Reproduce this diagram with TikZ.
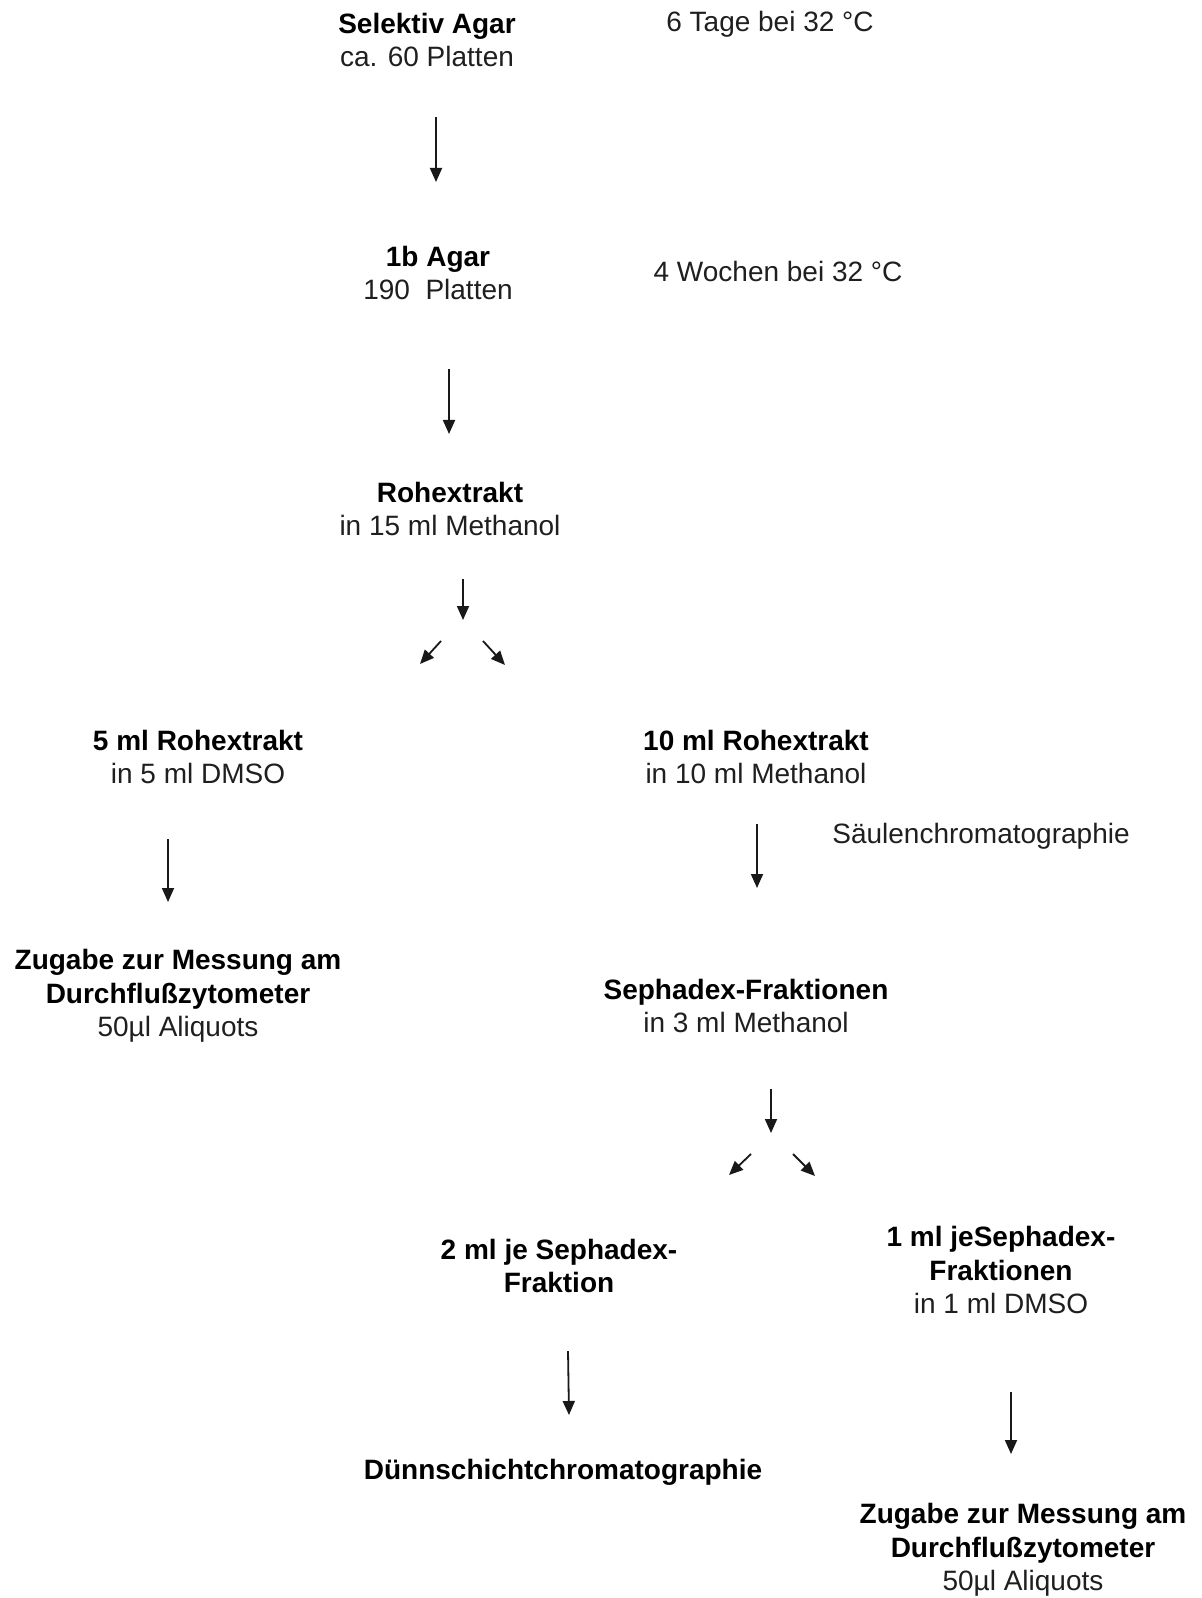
\documentclass[tikz,border=0pt]{standalone}
\usepackage{fontspec}
\setmainfont{Liberation Sans}
\usetikzlibrary{arrows.meta}
\begin{document}
\begin{tikzpicture}[x=0.5pt,y=-0.5pt,
  txt/.style={align=center,inner sep=0pt,text=black!88,font=\fontsize{14}{16.75}\selectfont},
  flow/.style={line width=0.9pt,draw=black!90,-{Triangle[length=7pt,width=6pt]}}]
\useasboundingbox[fill=white] (0,0) rectangle (1202,1598);
% nodes
\node[txt] (sel) at (427,40) {\textbf{\color{black}Selektiv Agar}\\ca. 60 Platten};
\node[txt] (t6) at (770,24) {6 Tage bei 32 °C};
\node[txt] (agar) at (438,273) {\textbf{\color{black}1b Agar}\\190\ \ Platten};
\node[txt] (w4) at (778,271) {4 Wochen bei 32 °C};
\node[txt] (roh) at (450,509) {\textbf{\color{black}Rohextrakt}\\in 15 ml Methanol};
\node[txt] (r5) at (198,757) {\textbf{\color{black}5 ml Rohextrakt}\\in 5 ml DMSO};
\node[txt] (r10) at (756,757) {\textbf{\color{black}10 ml Rohextrakt}\\in 10 ml Methanol};
\node[txt] (saeul) at (981,836) {Säulenchromatographie};
\node[txt] (zug1) at (178,996) {\textbf{\color{black}Zugabe zur Messung am}\\\textbf{\color{black}Durchflußzytometer}\\50µl Aliquots};
\node[txt] (seph) at (746,1006) {\textbf{\color{black}Sephadex-Fraktionen}\\in 3 ml Methanol};
\node[txt] (s2) at (559,1266) {\textbf{\color{black}2 ml je Sephadex-}\\\textbf{\color{black}Fraktion}};
\node[txt] (s1) at (1001,1270) {\textbf{\color{black}1 ml jeSephadex-}\\\textbf{\color{black}Fraktionen}\\in 1 ml DMSO};
\node[txt] (dc) at (563,1472) {\textbf{\color{black}Dünnschichtchromatographie}};
\node[txt] (zug2) at (1023,1550) {\textbf{\color{black}Zugabe zur Messung am}\\\textbf{\color{black}Durchflußzytometer}\\50µl Aliquots};
% arrow end points
\coordinate (a1s) at (436,117); \coordinate (a1e) at (436,182);
\coordinate (a2s) at (449,369); \coordinate (a2e) at (449,434);
\coordinate (a3s) at (463,579); \coordinate (a3e) at (463,620);
\coordinate (d1s) at (441,641); \coordinate (d1e) at (420,664);
\coordinate (d2s) at (483,641); \coordinate (d2e) at (505,665);
\coordinate (a4s) at (168,839); \coordinate (a4e) at (168,902);
\coordinate (a5s) at (757,824); \coordinate (a5e) at (757,888);
\coordinate (a6s) at (771,1089); \coordinate (a6e) at (771,1133);
\coordinate (d3s) at (751,1154); \coordinate (d3e) at (729,1175);
\coordinate (d4s) at (793,1154); \coordinate (d4e) at (815,1176);
\coordinate (a7s) at (568,1351); \coordinate (a7e) at (569,1415);
\coordinate (a8s) at (1011,1392); \coordinate (a8e) at (1011,1454);
% connectors
\draw[flow] (a1s) -- (a1e);
\draw[flow] (a2s) -- (a2e);
\draw[flow] (a3s) -- (a3e);
\draw[flow] (d1s) -- (d1e);
\draw[flow] (d2s) -- (d2e);
\draw[flow] (a4s) -- (a4e);
\draw[flow] (a5s) -- (a5e);
\draw[flow] (a6s) -- (a6e);
\draw[flow] (d3s) -- (d3e);
\draw[flow] (d4s) -- (d4e);
\draw[flow] (a7s) -- (a7e);
\draw[flow] (a8s) -- (a8e);
\end{tikzpicture}
\end{document}
